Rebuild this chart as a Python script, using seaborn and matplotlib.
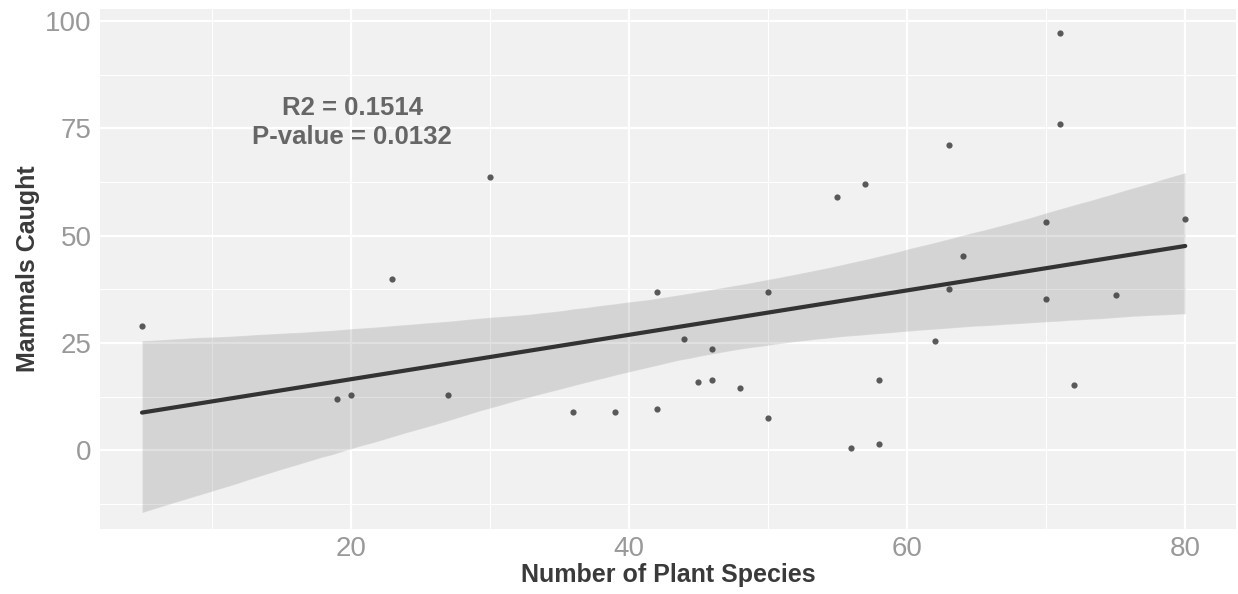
import matplotlib
matplotlib.use("Agg")
import matplotlib.pyplot as plt
import seaborn as sns
import pandas as pd
import numpy as np

plant_species = [5, 19, 20, 23, 27, 30, 36, 39, 42, 42, 44, 45, 46, 46, 48,
                 50, 50, 55, 56, 57, 58, 58, 62, 63, 63, 64, 70, 70, 71, 71,
                 72, 75, 80]
mammals_caught = [29, 12, 13, 40, 13, 63.6, 9, 9, 37, 9.6, 26, 16, 23.6, 16.5, 14.6,
                  37, 7.6, 59, 0.5, 62, 16.4, 1.6, 25.4, 37.6, 71.2, 45.3, 53.3, 35.2, 97.2, 76,
                  15.2, 36.3, 54]
x_ticks = [20, 40, 60, 80]
y_ticks = [0, 25, 50, 75, 100]
annotation = "R2 = 0.1514\nP-value = 0.0132"

df = pd.DataFrame({"Number of Plant Species": plant_species,
                   "Mammals Caught": mammals_caught})

sns.set_theme(style="white")
plt.rcParams['font.family'] = ['Liberation Sans', 'DejaVu Sans']

fig = plt.figure(figsize=(12.38, 5.94), dpi=100)
ax = fig.add_axes([100/1238, 65/594, 1136/1238, 520/594])
ax.set_facecolor("#F1F1F1")

sns.regplot(data=df, x="Number of Plant Species", y="Mammals Caught", ax=ax,
            color="#333333", ci=95, n_boot=10000, seed=1,
            scatter_kws=dict(s=20, linewidths=0, zorder=3),
            line_kws=dict(lw=3, color="#333333", zorder=4))

ax.set_xlim(1.98, 83.65)
ax.set_ylim(-18.3, 102.8)
ax.set_xticks(x_ticks)
ax.set_yticks(y_ticks)
ax.set_xticks([10, 30, 50, 70], minor=True)
ax.set_yticks([-12.5, 12.5, 37.5, 62.5, 87.5], minor=True)
ax.grid(True, which="major", color="white", lw=1.6, zorder=0)
ax.grid(True, which="minor", color="white", lw=0.8, zorder=0)
ax.set_axisbelow(True)
for s in ax.spines.values():
    s.set_visible(False)

ax.tick_params(axis="both", which="major", length=4, width=1, color="#AAAAAA",
               labelsize=20, labelcolor="#999999", pad=2)
ax.tick_params(axis="x", which="major", pad=1)
ax.tick_params(axis="both", which="minor", length=0)

ax.set_xlabel("Number of Plant Species", fontsize=18, fontweight="bold",
              color="#3A3A3A", labelpad=1)
ax.set_ylabel("Mammals Caught", fontsize=18, fontweight="bold",
              color="#3A3A3A", labelpad=4)

ax.text(20.1, 76.3, annotation, ha="center", va="center", fontsize=18.5,
        fontweight="bold", color="#666666", linespacing=1.25)

fig.savefig("out.png", dpi=100)
